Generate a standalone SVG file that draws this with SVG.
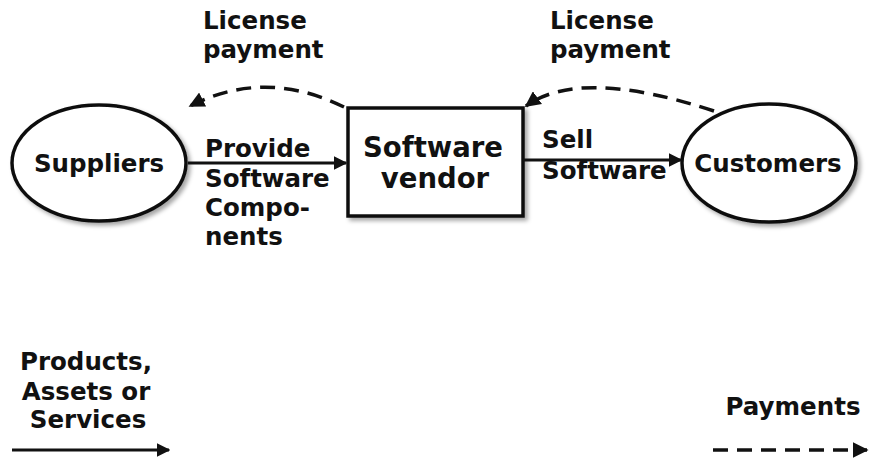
<svg xmlns="http://www.w3.org/2000/svg" width="870" height="461" viewBox="0 0 870 461">
<style>
.t{font-family:"DejaVu Sans",Verdana,sans-serif;font-weight:bold;font-size:24.5px;fill:#111}
.big{font-size:27.5px}
.shape{fill:#fff;stroke:#111;stroke-width:3.5}
.solid{fill:none;stroke:#111;stroke-width:3}
.dash{fill:none;stroke:#111;stroke-width:3.5;stroke-dasharray:15 9}
</style>
<defs>
<filter id="sh" x="-20%" y="-20%" width="140%" height="140%">
<feDropShadow dx="3" dy="3" stdDeviation="2" flood-color="#000" flood-opacity="0.35"/>
</filter>
<marker id="ah" viewBox="0 0 10 10" refX="9" refY="5" markerWidth="4.5" markerHeight="4.5" markerUnits="strokeWidth" orient="auto">
<path d="M0,0 L10,5 L0,10 z" fill="#111"/>
</marker>
</defs>
<rect width="870" height="461" fill="#fff"/>
<g id="suppliers">
<ellipse class="shape" filter="url(#sh)" cx="99" cy="163" rx="87" ry="58"/>
<text class="t" x="99" y="172" text-anchor="middle">Suppliers</text>
</g>
<g id="vendor">
<rect class="shape" filter="url(#sh)" x="348" y="108" width="175" height="108"/>
<text class="t big" x="433" y="157" text-anchor="middle">Software</text>
<text class="t big" x="435" y="188" text-anchor="middle">vendor</text>
</g>
<g id="customers">
<ellipse class="shape" filter="url(#sh)" cx="769" cy="163" rx="87" ry="59"/>
<text class="t" x="768" y="172" text-anchor="middle">Customers</text>
</g>
<g id="connectors">
<line class="solid" x1="188" y1="163" x2="346" y2="163" marker-end="url(#ah)"/>
<line class="solid" x1="523" y1="160" x2="681" y2="160" marker-end="url(#ah)"/>
<path class="dash" d="M344,107 Q265,68 190,106" marker-end="url(#ah)"/>
<path class="dash" d="M714,111 Q580,67 526,106" marker-end="url(#ah)"/>
</g>
<g id="labels">
<text class="t" x="203" y="29">License</text>
<text class="t" x="203" y="58">payment</text>
<text class="t" x="550" y="29">License</text>
<text class="t" x="550" y="58">payment</text>
<text class="t" x="205" y="157">Provide</text>
<text class="t" x="205" y="187">Software</text>
<text class="t" x="205" y="216">Compo-</text>
<text class="t" x="205" y="245">nents</text>
<text class="t" x="542" y="148">Sell</text>
<text class="t" x="542" y="179">Software</text>
</g>
<g id="legend">
<text class="t" x="86" y="370" text-anchor="middle">Products,</text>
<text class="t" x="86" y="400" text-anchor="middle">Assets or</text>
<text class="t" x="88" y="428" text-anchor="middle">Services</text>
<line class="solid" x1="12" y1="450" x2="169" y2="450" marker-end="url(#ah)"/>
<text class="t" x="793" y="415" text-anchor="middle">Payments</text>
<line class="dash" x1="713" y1="450" x2="867" y2="450" marker-end="url(#ah)"/>
</g>
</svg>
